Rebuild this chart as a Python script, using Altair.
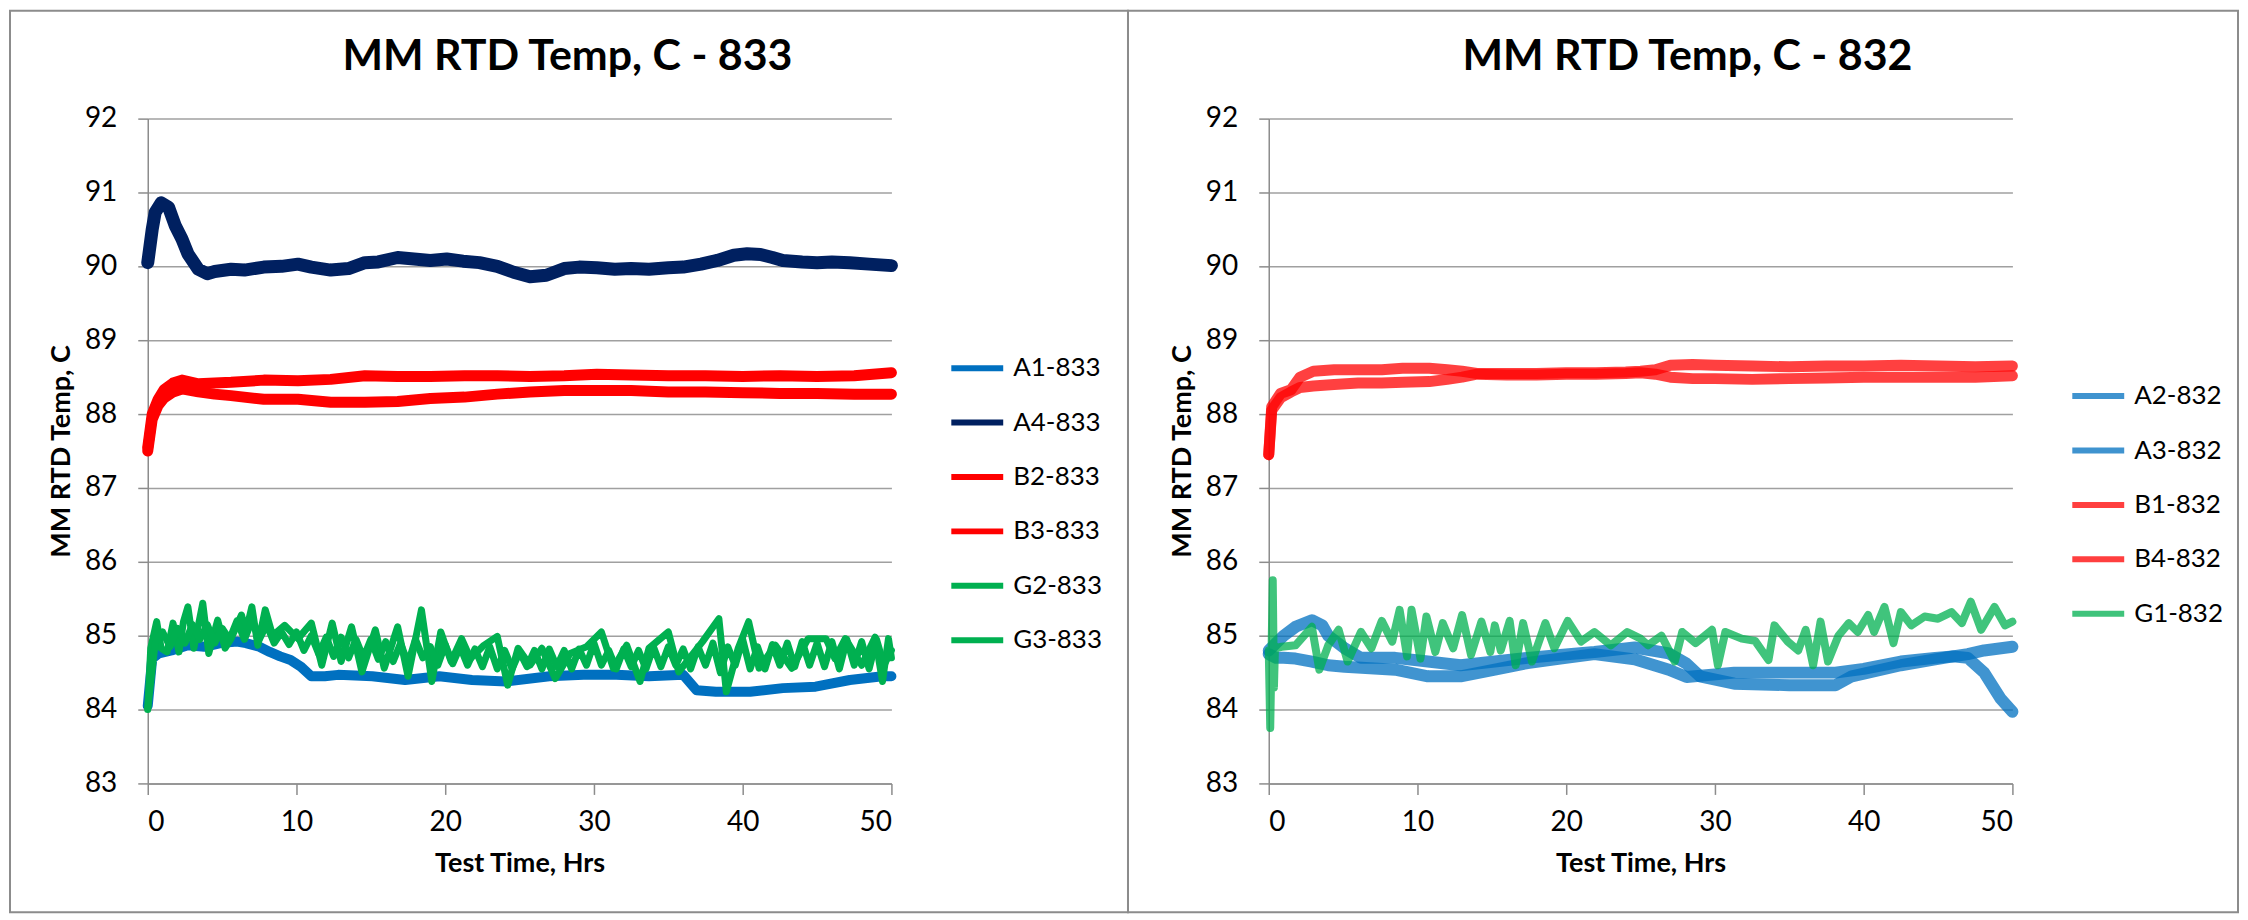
import altair as alt
import pandas as pd

# ---------------- data ----------------
# Left chart: 833
A4_833_t = [0, 0.3, 0.5, 0.9, 1.4, 1.85, 2.3, 2.7, 3.4, 4.0, 4.5, 5.6, 6.5, 7.8, 9, 10.1, 11, 12.3, 13.5, 14.6,
            15.5, 16.8, 17.9, 19, 20.1, 21.2, 22.3, 23.5, 24.6, 25.7, 26.8, 28, 29, 30.2, 31.4, 32.5, 33.7, 35, 36,
            37.2, 38.3, 39.4, 40.3, 41.2, 42, 42.7, 44, 45, 46, 47.2, 48.5, 50]
A4_833_v = [90.05, 90.5, 90.73, 90.86, 90.8, 90.55, 90.37, 90.17, 89.96, 89.9, 89.93, 89.96, 89.95, 89.99, 90.0,
            90.03, 89.99, 89.95, 89.97, 90.05, 90.06, 90.12, 90.1, 90.08, 90.1, 90.07, 90.05, 90.0, 89.92, 89.86,
            89.88, 89.97, 89.99, 89.98, 89.96, 89.97, 89.96, 89.98, 89.99, 90.03, 90.08, 90.15, 90.17, 90.16, 90.12,
            90.08, 90.06, 90.05, 90.06, 90.05, 90.03, 90.01]

B_833_t = [0, 0.3, 0.7, 1.1, 1.7, 2.3, 3.4, 4.5, 5.6, 7.8, 10.1, 12.3, 14.6, 16.8, 19, 21.3, 23.5, 25.7, 28, 30.2,
           32.5, 35, 37.5, 40, 42.5, 45, 47.5, 50]
B2_833_v = [87.55, 88.0, 88.2, 88.33, 88.42, 88.46, 88.41, 88.42, 88.43, 88.46, 88.45, 88.47, 88.52, 88.51, 88.51,
            88.52, 88.52, 88.51, 88.52, 88.54, 88.53, 88.52, 88.52, 88.51, 88.52, 88.51, 88.52, 88.56]
B3_833_v = [87.5, 87.93, 88.12, 88.22, 88.3, 88.34, 88.3, 88.27, 88.25, 88.2, 88.2, 88.16, 88.16, 88.17, 88.21,
            88.23, 88.27, 88.3, 88.32, 88.32, 88.32, 88.3, 88.3, 88.29, 88.28, 88.28, 88.27, 88.27]

A1_833_t = [0, 0.3, 0.75, 1.6, 2.7, 3.8, 4.9, 6.0, 6.6, 7.5, 8.2, 8.9, 9.6, 10.3, 11.0, 11.9, 12.8, 15.1, 17.3,
            19.6, 21.8, 24.1, 27, 29.3, 31.5, 33.7, 36, 36.9, 38.2, 40.5, 42.7, 44.9, 47.2, 49.4, 50]
A1_833_v = [84.05, 84.69, 84.76, 84.8, 84.87, 84.85, 84.9, 84.92, 84.9, 84.85, 84.78, 84.72, 84.67, 84.58, 84.45,
            84.45, 84.47, 84.45, 84.4, 84.45, 84.4, 84.38, 84.45, 84.47, 84.47, 84.45, 84.47, 84.26, 84.24, 84.24,
            84.29, 84.31, 84.4, 84.45, 84.45]

G2_833_t = [0, 0.2, 0.6, 0.9, 1.3, 1.7, 2.1, 2.4, 2.7, 3.1, 3.7, 4.1, 4.7, 5.2, 5.6, 6.3, 6.6, 7.0, 7.4, 7.9,
            8.4, 9.2, 10.1, 11.0, 11.7, 12.4, 13.0, 13.7, 14.4, 15.3, 15.9, 16.8, 17.5, 18.4, 19.1, 19.7, 20.4,
            21.1, 21.7, 22.6, 23.5, 24.2, 24.9, 25.7, 26.5, 27.4, 28.4, 29.5, 30.5, 31.3, 32.2, 33.1, 33.7, 35.0,
            35.7, 36.4, 37.3, 38.4, 38.9, 39.7, 40.4, 41.1, 42.2, 43.3, 44.4, 45.6, 46.2, 46.9, 48.0, 48.9, 49.4,
            49.8, 50]
G2_833_v = [84.0, 84.83, 85.19, 84.83, 84.78, 85.17, 84.78, 85.19, 85.39, 84.83, 85.44, 84.76, 85.21, 84.83, 84.96,
            85.28, 85.05, 85.39, 84.87, 85.35, 85.0, 85.14, 84.96, 85.17, 84.6, 85.17, 84.65, 85.12, 84.51, 85.08,
            84.56, 85.12, 84.45, 85.35, 84.38, 85.05, 84.65, 84.96, 84.69, 84.87, 84.99, 84.33, 84.83, 84.6, 84.83,
            84.42, 84.76, 84.85, 85.05, 84.56, 84.87, 84.38, 84.83, 85.05, 84.51, 84.69, 84.92, 85.23, 84.24, 84.83,
            85.19, 84.56, 84.87, 84.56, 84.96, 84.96, 84.69, 84.96, 84.6, 84.98, 84.38, 84.96, 84.7]

G3_833_t = [0, 0.5, 1, 1.5, 2, 2.5, 3, 3.5, 4, 4.5, 5, 5.5, 6, 6.5, 7, 7.5, 8, 8.5, 9, 9.5, 10, 10.5, 11, 11.5,
            12, 12.5, 13, 13.5, 14, 14.5, 15, 15.5, 16, 16.5, 17, 17.5, 18, 18.5, 19, 19.5, 20, 20.5, 21, 21.5,
            22, 22.5, 23, 23.5, 24, 24.5, 25, 25.5, 26, 26.5, 27, 27.5, 28, 28.5, 29, 29.5, 30, 30.5, 31, 31.5,
            32, 32.5, 33, 33.5, 34, 34.5, 35, 35.5, 36, 36.5, 37, 37.5, 38, 38.5, 39, 39.5, 40, 40.5, 41, 41.5,
            42, 42.5, 43, 43.5, 44, 44.5, 45, 45.5, 46, 46.5, 47, 47.5, 48, 48.5, 49, 49.5, 50]
G3_833_v = [84.02, 84.9, 85.05, 84.85, 85.1, 84.9, 85.15, 84.95, 85.15, 84.9, 85.1, 84.95, 85.2, 84.95, 85.2,
            84.95, 85.15, 84.9, 85.05, 84.88, 85.05, 84.8, 85.0, 84.75, 84.98, 84.72, 84.98, 84.7, 84.95, 84.7,
            84.95, 84.68, 84.92, 84.65, 84.9, 84.62, 84.95, 84.7, 84.85, 84.6, 84.88, 84.62, 84.85, 84.6, 84.82,
            84.58, 84.85, 84.55, 84.8, 84.55, 84.78, 84.58, 84.8, 84.55, 84.82, 84.58, 84.8, 84.55, 84.82, 84.6,
            84.9, 84.6, 84.8, 84.55, 84.82, 84.58, 84.8, 84.55, 84.85, 84.58, 84.85, 84.6, 84.82, 84.55, 84.85,
            84.6, 84.9, 84.5, 84.85, 84.6, 84.95, 84.55, 84.85, 84.55, 84.88, 84.6, 84.9, 84.58, 84.92, 84.6,
            84.9, 84.58, 84.92, 84.55, 84.95, 84.6, 84.92, 84.55, 84.95, 84.6, 84.8]

# Right chart: 832
B_832_t = [0, 0.2, 0.8, 1.5, 2.1, 3, 4.4, 6, 7.6, 9, 10.8, 12, 13, 14, 16, 18, 20, 22, 24, 25, 26, 27, 28.5, 30,
           32.5, 35, 37.5, 40, 42.5, 45, 47.5, 50]
B1_832_v = [87.45, 88.1, 88.28, 88.33, 88.5, 88.58, 88.6, 88.6, 88.6, 88.62, 88.62, 88.6, 88.58, 88.55, 88.55,
            88.55, 88.56, 88.56, 88.57, 88.58, 88.6, 88.66, 88.67, 88.66, 88.65, 88.64, 88.65, 88.65, 88.66, 88.65,
            88.64, 88.65]
B4_832_v = [87.45, 88.05, 88.22, 88.3, 88.36, 88.38, 88.4, 88.42, 88.42, 88.43, 88.44, 88.47, 88.5, 88.54, 88.53,
            88.53, 88.54, 88.54, 88.55, 88.56, 88.54, 88.5, 88.48, 88.48, 88.47, 88.48, 88.49, 88.5, 88.5, 88.5,
            88.5, 88.52]

A2_832_t = [0, 0.5, 1, 1.8, 2.9, 3.6, 4, 5.1, 6.2, 8.5, 10.7, 12.9, 15.2, 17.4, 19.6, 21.9, 24.6, 26.9, 28.1, 29,
            31.3, 35, 38.1, 39.2, 42.5, 44.8, 46, 47, 48.1, 50]
A2_832_v = [84.8, 84.9, 85.0, 85.12, 85.21, 85.14, 85.0, 84.83, 84.7, 84.7, 84.65, 84.6, 84.65, 84.7, 84.74, 84.78,
            84.84, 84.76, 84.62, 84.45, 84.35, 84.33, 84.33, 84.45, 84.6, 84.68, 84.72, 84.75, 84.8, 84.85]

A3_832_t = [0, 0.5, 1, 1.8, 2.9, 4, 5.1, 8.5, 10.7, 12.9, 15.2, 17.4, 19.6, 21.9, 24.6, 26.9, 28.1, 31.3, 35, 38.1,
            40, 42.5, 44.8, 46, 47, 48.1, 49.2, 50]
A3_832_v = [84.75, 84.7, 84.7, 84.69, 84.65, 84.6, 84.58, 84.54, 84.45, 84.45, 84.54, 84.63, 84.69, 84.75, 84.68,
            84.54, 84.44, 84.5, 84.5, 84.5, 84.55, 84.65, 84.7, 84.72, 84.7, 84.5, 84.15, 83.97]

G1_832_t = [0, 0.1, 0.27, 0.35, 0.42, 0.87, 1.8, 2.9, 3.4, 4.0, 4.7, 5.3, 6.2, 6.9, 7.6, 8.3, 8.8, 9.3, 9.6, 10.2,
            10.6, 11.2, 11.7, 12.4, 13.0, 13.6, 14.3, 14.9, 15.2, 15.6, 16.2, 16.6, 17.1, 17.7, 18.6, 19.2, 20.1,
            21.0, 21.9, 23.0, 24.1, 25.0, 25.5, 26.4, 27.3, 27.8, 28.7, 29.8, 30.2, 30.7, 31.8, 32.7, 33.6, 34.0,
            34.9, 35.6, 36.1, 36.6, 37.1, 37.6, 38.3, 39.0, 39.6, 40.3, 40.7, 41.4, 42.0, 42.5, 43.2, 44.1, 45.0,
            45.9, 46.6, 47.2, 47.9, 48.8, 49.5, 50]
G1_832_v = [84.8, 83.75, 85.75, 84.3, 84.83, 84.85, 84.87, 85.12, 84.54, 84.87, 85.08, 84.65, 85.05, 84.83, 85.2,
            84.92, 85.35, 84.72, 85.35, 84.69, 85.26, 84.78, 85.17, 84.83, 85.28, 84.74, 85.19, 84.78, 85.14, 84.8,
            85.2, 84.6, 85.17, 84.65, 85.17, 84.83, 85.2, 84.92, 85.05, 84.87, 85.05, 84.96, 84.87, 85.0, 84.65,
            85.05, 84.9, 85.08, 84.6, 85.05, 84.96, 84.93, 84.67, 85.14, 84.92, 84.8, 85.08, 84.6, 85.19, 84.65,
            85.0, 85.17, 85.05, 85.28, 85.05, 85.39, 84.9, 85.32, 85.14, 85.26, 85.23, 85.32, 85.17, 85.46, 85.08,
            85.39, 85.14, 85.19]

Y_TICKS = [83, 84, 85, 86, 87, 88, 89, 90, 91, 92]
X_TICKS = [0, 10, 20, 30, 40, 50]
TITLES = ["MM RTD Temp, C - 833", "MM RTD Temp, C - 832"]

# ---------------- styling ----------------
FONT = "Lato"
GRID = "#a0a0a0"
AXIS_C = "#8c8c8c"
BLUE, NAVY, RED, GREEN = "#0070C0", "#002060", "#FF0000", "#00B050"
PW, PH = 745, 666


def series_df(name, ts, vs):
    return pd.DataFrame({"t": ts, "v": vs, "series": name})


def make_panel(specs, title, title_dx, legend_y, fx1, fx2, opacity, sym_opacity):
    domain = [s[0] for s in specs]
    colors = [s[3] for s in specs]
    legend = alt.Legend(title=None, orient="none", legendX=802, legendY=legend_y,
                        symbolType="stroke", symbolSize=2704, symbolStrokeWidth=6,
                        symbolOpacity=sym_opacity, labelFont=FONT, labelFontSize=26,
                        labelColor="black", labelOffset=7, rowPadding=12.5, padding=0,
                        labelLimit=400)
    color = alt.Color("series:N", scale=alt.Scale(domain=domain, range=colors), legend=legend)
    x = alt.X("t:Q", scale=alt.Scale(domain=[0, 50], nice=False),
              axis=alt.Axis(values=X_TICKS, title="Test Time, Hrs", grid=False, tickSize=11,
                            labelPadding=14, titlePadding=14, format="d"))
    y = alt.Y("v:Q", scale=alt.Scale(domain=[83, 92], nice=False, zero=False),
              axis=alt.Axis(values=Y_TICKS, title="MM RTD Temp, C", grid=True, tickSize=10,
                            labelPadding=21, titlePadding=9, format="d"))
    one = pd.DataFrame({"label": [title]})
    frame = alt.Chart(one).mark_rect(
        fill="white", fillOpacity=0, stroke=AXIS_C, strokeWidth=2
    ).encode(x=alt.value(fx1), x2=alt.value(fx2), y=alt.value(-108), y2=alt.value(795))
    title_mark = alt.Chart(one).mark_text(
        font=FONT, fontSize=43, fontWeight="bold", color="black", align="center", baseline="alphabetic"
    ).encode(text="label:N", x=alt.value(PW / 2 + title_dx), y=alt.value(-49))
    layers = [frame, title_mark]
    for name, ts, vs, col, w in specs:
        layers.append(
            alt.Chart(series_df(name, ts, vs)).mark_line(
                strokeWidth=w, opacity=opacity, strokeJoin="round", strokeCap="round"
            ).encode(x=x, y=y, color=color)
        )
    return alt.layer(*layers).properties(width=PW, height=PH)


left = make_panel(
    [("A1-833", A1_833_t, A1_833_v, BLUE, 10),
     ("A4-833", A4_833_t, A4_833_v, NAVY, 13),
     ("B2-833", B_833_t, B2_833_v, RED, 11),
     ("B3-833", B_833_t, B3_833_v, RED, 11),
     ("G2-833", G2_833_t, G2_833_v, GREEN, 7),
     ("G3-833", G3_833_t, G3_833_v, GREEN, 7)],
    TITLES[0], 48, 221, -138, 982, 1.0, 1.0,
)

right = make_panel(
    [("A2-832", A2_832_t, A2_832_v, BLUE, 12),
     ("A3-832", A3_832_t, A3_832_v, BLUE, 12),
     ("B1-832", B_832_t, B1_832_v, RED, 11),
     ("B4-832", B_832_t, B4_832_v, RED, 11),
     ("G1-832", G1_832_t, G1_832_v, GREEN, 8)],
    TITLES[1], 47, 249, -141, 971, 0.75, 0.75,
)

chart = alt.hconcat(left, right, spacing=378, bounds="flush").resolve_scale(
    color="independent"
).properties(padding=0, background="white").configure_view(stroke="transparent").configure_axis(
    labelFont=FONT, labelFontSize=28, labelColor="black",
    titleFont=FONT, titleFontSize=27, titleFontWeight="bold", titleColor="black",
    domainColor=AXIS_C, domainWidth=1.5, tickColor=AXIS_C, tickWidth=1.5,
    gridColor=GRID, gridWidth=1.5,
)

chart.save("out.html", embed_options={"renderer": "svg", "actions": False})
